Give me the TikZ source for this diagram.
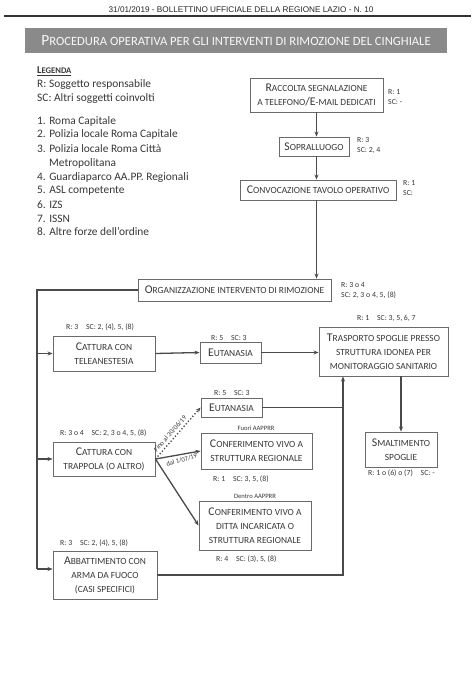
\documentclass[tikz,border=0pt]{standalone}
\usepackage{fontspec}
\setmainfont{Carlito}
\newfontfamily\hdrfont{Liberation Sans}
\usetikzlibrary{arrows.meta}
\definecolor{ln}{HTML}{4A4A4A}
\definecolor{tx}{HTML}{383838}
\definecolor{bd}{HTML}{6A6A6A}
\definecolor{ttl}{HTML}{8A8A8A}
\newcommand\sm[1]{{\fontsize{9.4}{11}\selectfont #1}}
\newcommand\tsm[1]{{\fontsize{12.6}{14}\selectfont #1}}
\newcommand\lsm[1]{{\fontsize{8.6}{10}\selectfont #1}}
\begin{document}
\begin{tikzpicture}[x=1pt,y=-1pt,
 box/.style={draw=bd, line width=0.9pt, fill=white, text=tx, align=center, inner sep=0pt, font=\fontsize{11.8}{14}\selectfont},
 lbl/.style={text=tx, font=\fontsize{7.8}{10.5}\selectfont, inner sep=0pt, align=left},
 leg/.style={text=tx, font=\fontsize{11.4}{13}\selectfont, inner sep=0pt, anchor=base west},
 conn/.style={draw=ln, line width=1.3pt},
 arr/.style={conn, -{Stealth[length=5pt,width=4pt]}},
]
\useasboundingbox[fill=white] (0,0) rectangle (474,692);
% header
\node[font=\hdrfont\fontsize{8.2}{9}\selectfont, text=black!85, inner sep=0pt] (hdr) at (241,10) {31/01/2019 - BOLLETTINO UFFICIALE DELLA REGIONE LAZIO - N. 10};
\coordinate (hl) at (4,16.5);
\coordinate (hr) at (471,16.5);
\draw[line width=2pt, black!80] (hl) -- (hr);
\node[fill=ttl, minimum width=422, minimum height=25, inner sep=0pt, text=white!94!gray, font=\fontsize{15.5}{16}\selectfont] (title) at (236,41) {P\tsm{ROCEDURA OPERATIVA PER GLI INTERVENTI DI RIMOZIONE DEL CINGHIALE}};
% legend
\node[leg, font=\bfseries\fontsize{10.4}{11}\selectfont] (legt) at (37,74) {\underline{L\lsm{EGENDA}}};
\foreach \t/\y [count=\i] in {R: Soggetto responsabile/87.5, SC: Altri soggetti coinvolti/101.5, 1. Roma Capitale/124.7, 2. Polizia locale Roma Capitale/138, 3. Polizia locale Roma Città/152.3, 4. Guardiaparco AA.PP. Regionali/180.7, 5. ASL competente/194, 6. IZS/208.7, 7. ISSN/222.3, 8. Altre forze dell’ordine/235.7}
  \node[leg] (leg\i) at (37,\y) {\t};
\node[leg] (legm) at (49,166.3) {Metropolitana};
% boxes
\node[box, minimum width=133, minimum height=34] (racc) at (316.5,95) {R\sm{ACCOLTA SEGNALAZIONE}\\\sm{A TELEFONO}/E\sm{-MAIL DEDICATI}};
\node[box, minimum width=70, minimum height=19] (sopr) at (314,146.5) {S\sm{OPRALLUOGO}};
\node[box, minimum width=156, minimum height=20] (conv) at (318,190) {C\sm{ONVOCAZIONE TAVOLO OPERATIVO}};
\node[box, minimum width=193, minimum height=22] (org) at (234.5,290) {O\sm{RGANIZZAZIONE INTERVENTO DI RIMOZIONE}};
\node[box, minimum width=102, minimum height=35] (catt1) at (104,353.5) {C\sm{ATTURA CON}\\\sm{TELEANESTESIA}};
\node[box, minimum width=61, minimum height=21] (eut1) at (230.5,352.5) {E\sm{UTANASIA}};
\node[box, minimum width=129, minimum height=49] (trasp) at (383.5,351.5) {T\sm{RASPORTO SPOGLIE PRESSO}\\\sm{STRUTTURA IDONEA PER}\\\sm{MONITORAGGIO SANITARIO}};
\node[box, minimum width=61, minimum height=19] (eut2) at (231.5,407.5) {E\sm{UTANASIA}};
\node[box, minimum width=102, minimum height=34] (catt2) at (104,459) {C\sm{ATTURA CON}\\\sm{TRAPPOLA (O ALTRO)}};
\node[box, minimum width=111, minimum height=36] (conf1) at (256.5,451) {C\sm{ONFERIMENTO VIVO A}\\\sm{STRUTTURA REGIONALE}};
\node[box, minimum width=112, minimum height=49] (conf2) at (255,525.5) {C\sm{ONFERIMENTO VIVO A}\\\sm{DITTA INCARICATA O}\\\sm{STRUTTURA REGIONALE}};
\node[box, minimum width=104, minimum height=48] (abb) at (105,575) {A\sm{BBATTIMENTO CON}\\\sm{ARMA DA FUOCO}\\\sm{(CASI SPECIFICI)}};
\node[box, minimum width=72, minimum height=35] (smalt) at (401,449.5) {S\sm{MALTIMENTO}\\\sm{SPOGLIE}};
% labels
\node[lbl, anchor=west] (lracc) at (388,97) {R: 1\\SC: -};
\node[lbl, anchor=west] (lsopr) at (357,145.5) {R: 3\\SC: 2, 4};
\node[lbl, anchor=west] (lconv) at (403,188) {R: 1\\SC:};
\node[lbl, anchor=west] (lorg) at (341,290.5) {R: 3 o 4\\SC: 2, 3 o 4, 5, (8)};
\node[lbl, anchor=west] (lcatt1) at (66,327) {R: 3\quad SC: 2, (4), 5, (8)};
\node[lbl, anchor=west] (leut1) at (211,338) {R: 5\quad SC: 3};
\node[lbl, anchor=west] (ltrasp) at (357,318) {R: 1\quad SC: 3, 5, 6, 7};
\node[lbl, anchor=west] (leut2) at (214,392.5) {R: 5\quad SC: 3};
\node[lbl, anchor=west] (lcatt2) at (60,433) {R: 3 o 4\quad SC: 2, 3 o 4, 5, (8)};
\node[lbl, font=\fontsize{6.6}{8}\selectfont] (fuori) at (256,428) {Fuori AAPPRR};
\node[lbl, anchor=west] (lconf1) at (213,479) {R: 1\quad SC: 3, 5, (8)};
\node[lbl, font=\fontsize{6.6}{8}\selectfont] (dentro) at (255,496) {Dentro AAPPRR};
\node[lbl, anchor=west] (lconf2) at (216,559) {R: 4\quad SC: (3), 5, (8)};
\node[lbl, anchor=west] (labb) at (60,543) {R: 3\quad SC: 2, (4), 5, (8)};
\node[lbl, anchor=west] (lsmalt) at (368,473) {R: 1 o (6) o (7)\quad SC: -};
% connectors
\draw[arr] (racc.south) -- (racc.south |- sopr.north);
\draw[arr] (racc.south |- sopr.south) -- (racc.south |- conv.north);
\draw[arr] (racc.south |- conv.south) -- (racc.south |- org.north);
\coordinate (tk1) at (37,290);
\coordinate (tk2) at (37,569);
\coordinate (ab) at (abb.west |- tk2);
\draw[conn] (org.west) -- (tk1) -- (tk2);
\draw[arr] (tk2) -- (ab);
\draw[arr] (catt1.west -| tk1) -- (catt1.west);
\draw[arr] (catt2.west -| tk1) -- (catt2.west);
\draw[arr] (catt1.east) -- (eut1.west);
\draw[arr] (eut1.east) -- (eut1.east -| trasp.west);
\draw[arr] (smalt.north |- trasp.south) -- (smalt.north);
\coordinate (rb) at (343,575);
\coordinate (rj) at (343,407.5);
\draw[conn] (abb.east) -- (rb) -- (rj);
\draw[conn] (eut2.east) -- (rj);
\draw[arr] (rj) -- (rj |- trasp.south);
\draw[arr, dotted] (catt2.east) -- node[sloped, above, font=\fontsize{6.8}{7}\selectfont, text=tx, inner sep=2.5pt, pos=0.42] (fino) {Fino~al~30/06/19} (eut2.west);
\draw[arr] (catt2.east) -- node[sloped, below, font=\fontsize{6.6}{7}\selectfont, text=tx, inner sep=2.5pt, pos=0.55, rotate=5] (dal) {dal~1/07/19} (conf1.west);
\draw[arr] (catt2.east) -- (conf2.west);
\end{tikzpicture}
\end{document}
